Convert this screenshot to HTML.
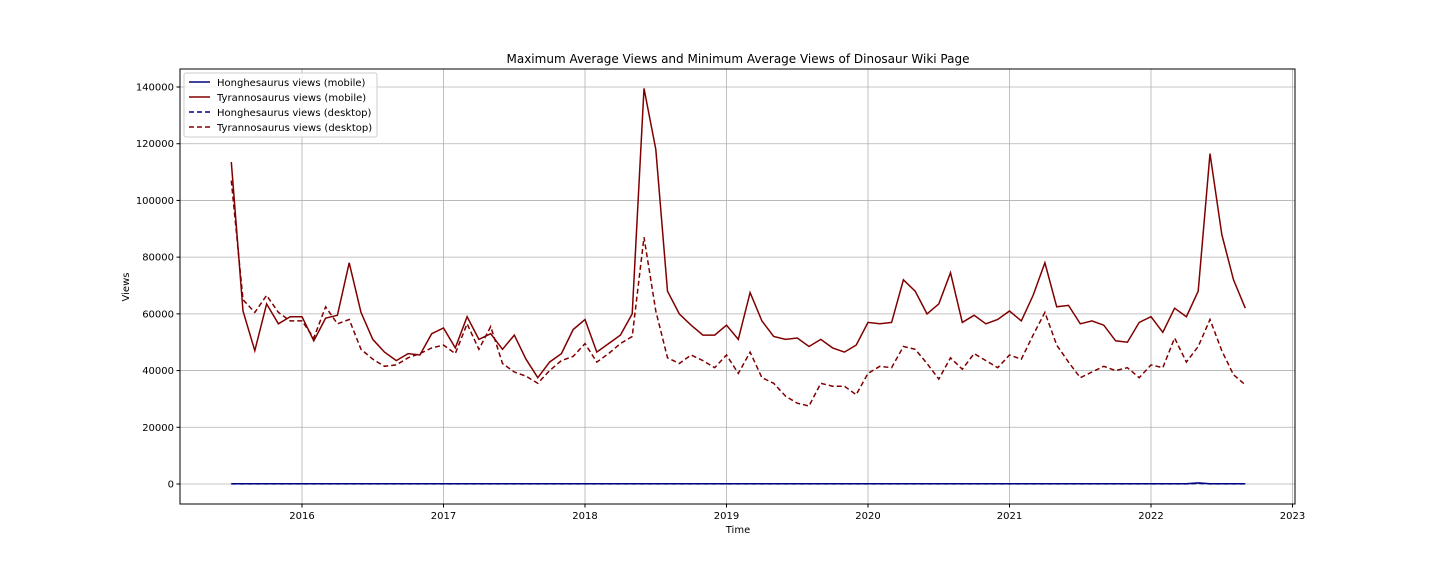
<!DOCTYPE html>
<html><head><meta charset="utf-8"><style>
body{margin:0;background:#fff;}
svg{display:block;font-family:"DejaVu Sans","Liberation Sans",sans-serif;}
</style></head><body>
<svg id="chart" width="1440" height="576" xmlns="http://www.w3.org/2000/svg">
<text x="738" y="63" font-size="12" text-anchor="middle">Maximum Average Views and Minimum Average Views of Dinosaur Wiki Page</text>
<g id="grid"></g><g id="axes"></g><g id="series"></g>
<text x="738" y="533" font-size="10" text-anchor="middle">Time</text>
<text x="129" y="287" font-size="10" text-anchor="middle" transform="rotate(-90 129 287)">Views</text>
<g>
<rect x="184" y="73" width="193" height="64" fill="#fff" fill-opacity="0.8" stroke="#ccc" rx="2"/>
<line x1="189" y1="82" x2="210" y2="82" stroke="#000080" stroke-width="1.5"/>
<text x="217" y="86" font-size="10">Honghesaurus views (mobile)</text>
<line x1="189" y1="97" x2="210" y2="97" stroke="#800000" stroke-width="1.5"/>
<text x="217" y="101" font-size="10">Tyrannosaurus views (mobile)</text>
<line x1="189" y1="112" x2="210" y2="112" stroke="#000080" stroke-width="1.5" stroke-dasharray="5,3"/>
<text x="217" y="116" font-size="10">Honghesaurus views (desktop)</text>
<line x1="189" y1="127" x2="210" y2="127" stroke="#800000" stroke-width="1.5" stroke-dasharray="5,3"/>
<text x="217" y="131" font-size="10">Tyrannosaurus views (desktop)</text>
</g>
</svg>
<script>
const tyrMobile=[113500,61000,47000,63500,56500,59000,59000,50500,58500,59500,78000,60500,51000,46500,43500,46000,45500,53000,55000,48000,59000,51000,53000,47500,52500,44000,37500,43000,46000,54500,58000,46500,49500,52500,60000,139500,118000,68000,60000,56000,52500,52500,56000,51000,67500,57500,52000,51000,51500,48500,51000,48000,46500,49000,57000,56500,57000,72000,68000,60000,63500,74500,57000,59500,56500,58000,61000,57500,66500,78000,62500,63000,56500,57500,56000,50500,50000,57000,59000,53500,62000,59000,68000,116500,88000,72000,62000];
const tyrDesktop=[107000,65000,60500,66500,60500,57500,57500,51500,62500,56500,58000,47500,44000,41500,42000,44500,46000,48000,49000,46000,56500,47500,55500,42500,39500,38000,35500,40000,43500,45000,49500,43000,46000,49500,52000,87000,61000,44500,42500,45500,43500,41000,45500,39000,46500,37500,35500,31000,28500,27500,35500,34500,34500,31500,39000,41500,41000,48500,47500,42500,37000,44500,40500,46000,43500,41000,45500,44000,52500,60500,49000,43000,37500,39500,41500,40000,41000,37500,42000,41000,51500,43000,48500,58000,47000,38500,35000];
const hongMobile=tyrMobile.map(()=>100);
hongMobile[82]=400;
const hongDesktop=tyrDesktop.map(()=>50);
hongDesktop[82]=200;
const yTicks=[0,20000,40000,60000,80000,100000,120000,140000];
const xTicks=[2016,2017,2018,2019,2020,2021,2022,2023];
const startYear=2015.5;

const NS="http://www.w3.org/2000/svg";
const L=180,R=1295,T=69,B=504;
const xs=yr=>302+(yr-2016)*141.5;
const ys=v=>484-v*397/140000;
const mk=(tag,attrs,parent)=>{const e=document.createElementNS(NS,tag);for(const k in attrs)e.setAttribute(k,attrs[k]);parent.appendChild(e);return e;};
const grid=document.getElementById('grid'),axes=document.getElementById('axes'),ser=document.getElementById('series');
yTicks.forEach(v=>{
 const y=ys(v);
 const g=mk('line',{x1:L,x2:R,y1:y,y2:y,stroke:'#b0b0b0','stroke-width':0.8},grid);
 
 
 mk('line',{x1:L-3.5,x2:L,y1:y,y2:y,stroke:'#000'},axes);
 const t=mk('text',{x:L-6,y:y+3.5,'font-size':10,'text-anchor':'end'},axes);
 t.textContent=v;
 
 
});
xTicks.forEach(yr=>{
 const x=xs(yr);
 const g=mk('line',{x1:x,x2:x,y1:T,y2:B,stroke:'#b0b0b0','stroke-width':0.8},grid);
 
 
 mk('line',{x1:x,x2:x,y1:B,y2:B+3.5,stroke:'#000'},axes);
 const t=mk('text',{x:x,y:B+15,'font-size':10,'text-anchor':'middle'},axes);
 t.textContent=yr;
 
 
});
const frame=mk('rect',{x:L,y:T,width:R-L,height:B-T,fill:'none',stroke:'#000','stroke-width':1},axes);


function line(vals,color,dash,name){
 const pts=vals.map((v,i)=>xs(startYear+i/12).toFixed(1)+','+ys(v).toFixed(1)).join(' ');
 const p=mk('polyline',{points:pts,fill:'none',stroke:color,'stroke-width':1.5},ser);
 if(dash)p.setAttribute('stroke-dasharray','5,3');
 
 
}
line(hongMobile,'#000080',false,'honghesaurus-mobile-line');
line(tyrMobile,'#800000',false,'tyrannosaurus-mobile-line');
line(hongDesktop,'#000080',true,'honghesaurus-desktop-line');
line(tyrDesktop,'#800000',true,'tyrannosaurus-desktop-line');
</script>
</body></html>
